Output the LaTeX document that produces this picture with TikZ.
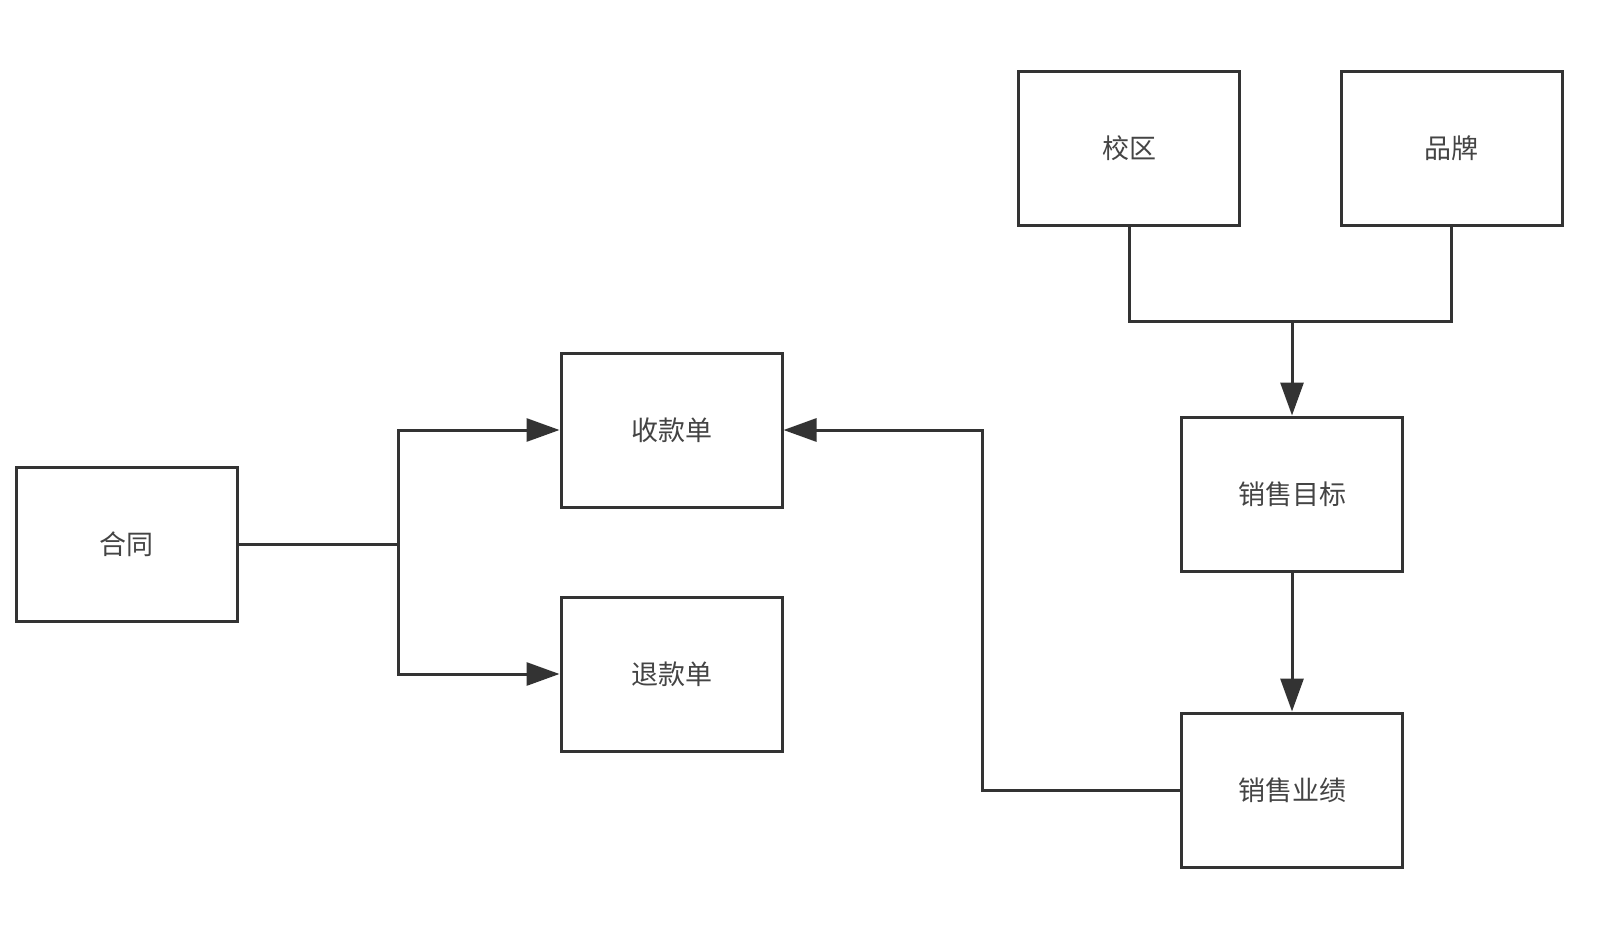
\documentclass[tikz,border=0pt]{standalone}
\usepackage{fontspec}
\newfontfamily\cjk{Noto Sans CJK SC}
\usetikzlibrary{arrows.meta}
\definecolor{linec}{HTML}{333333}
\definecolor{textc}{HTML}{444444}
\begin{document}
\begin{tikzpicture}[x=1pt,y=-1pt,
  box/.style={draw=linec,line width=3pt,minimum width=221pt,minimum height=154pt,inner sep=0pt,
    font=\cjk\fontsize{27}{30}\selectfont,text=textc},
  conn/.style={draw=linec,line width=3pt},
  arr/.style={conn,-{Triangle[length=33pt,width=23pt]}}]
\useasboundingbox[fill=white] (0,0) rectangle (1616,934);
\node[box] (ht) at (126.5,544.5) {合同};
\node[box] (sk) at (671.5,430) {收款单};
\node[box] (tk) at (671.5,674) {退款单};
\node[box] (xq) at (1129,148) {校区};
\node[box] (pp) at (1451.5,148) {品牌};
\node[box] (mb) at (1292,494) {销售目标};
\node[box] (yj) at (1292,790) {销售业绩};
\coordinate (j1) at (398,544.5);
\coordinate (j2) at (1292,321);
\coordinate (k) at (982,430);
\draw[conn] (ht.east) -- (j1);
\draw[arr] (j1) |- (sk.west);
\draw[arr] (j1) |- (tk.west);
\draw[conn] (xq.south) |- (j2);
\draw[conn] (pp.south) |- (j2);
\draw[arr] (j2) -- (mb.north);
\draw[arr] (mb.south) -- (yj.north);
\draw[arr] (yj.west) -| (k) -- (sk.east);
\end{tikzpicture}
\end{document}
